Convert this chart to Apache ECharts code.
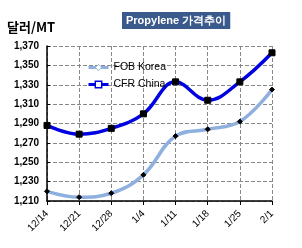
<!DOCTYPE html>
<html><head><meta charset="utf-8">
<script src="https://cdn.jsdelivr.net/npm/echarts@6/dist/echarts.min.js"></script>
<style>html,body{margin:0;padding:0;background:#fff}#c{width:302px;height:248px}</style>
</head><body><div id="c"></div>
<script>
const categories = ['12/14','12/21','12/28','1/4','1/11','1/18','1/25','2/1'];
const fobKorea = [1220, 1214, 1218, 1237, 1277, 1284, 1292, 1325];
const cfrChina = [1288, 1279, 1285, 1300, 1333, 1314, 1333, 1363];
const yTicks = [1210, 1370, 20];
const chart = echarts.init(document.getElementById('c'));
const font = '"Liberation Sans", Arial, sans-serif';
chart.setOption({
  animation: false,
  title: {
    text: 'Propylene 가격추이', left: 122, top: 12,
    backgroundColor: '#3b5a8c', padding: [3, 4, 3, 4],
    textStyle: { color: '#fff', fontSize: 11, fontWeight: 'bold', fontFamily: font }
  },
  graphic: [{ type: 'text', left: 7, top: 21, style: { text: '달러/MT', fontSize: 13, fontWeight: 'bold', fill: '#000', fontFamily: '"Noto Sans CJK KR", sans-serif' } }],
  legend: {
    orient: 'vertical', left: 82, top: 57, itemGap: 6, itemWidth: 20, itemHeight: 8,
    textStyle: { fontSize: 10.5, fontFamily: font, color: '#000' },
    data: [
      { name: 'FOB Korea', itemStyle: { color: '#fff', borderColor: '#8fb0de', borderWidth: 1 }, lineStyle: { width: 3 } },
      { name: 'CFR China', itemStyle: { color: '#fff', borderColor: '#0000e0', borderWidth: 1.5 }, lineStyle: { width: 3 } }
    ]
  },
  grid: { left: 47, right: 30, top: 46, bottom: 47 },
  xAxis: {
    type: 'category', data: categories, boundaryGap: false,
    axisLine: { lineStyle: { color: '#000', width: 1.5 } },
    axisTick: { show: true, inside: false, length: 4, lineStyle: { color: '#000' } },
    axisLabel: { rotate: 45, fontSize: 10, color: '#000', fontFamily: font, margin: 11 },
    splitLine: { show: true, lineStyle: { color: '#888', type: 'dashed', width: 1 } }
  },
  yAxis: {
    type: 'value', min: yTicks[0], max: yTicks[1], interval: yTicks[2],
    axisLine: { show: true, lineStyle: { color: '#000', width: 1.5 } },
    axisTick: { show: true, inside: true, length: 3, lineStyle: { color: '#000' } },
    axisLabel: { fontSize: 10, fontWeight: 'bold', color: '#000', fontFamily: font, margin: 8,
      formatter: v => v.toLocaleString('en-US') },
    splitLine: { show: true, lineStyle: { color: '#888', type: 'dashed', width: 1 } }
  },
  series: [
    { name: 'FOB Korea', type: 'line', data: fobKorea, smooth: 0.4,
      symbol: 'diamond', symbolSize: 5,
      lineStyle: { color: '#8fb0de', width: 3.5 },
      itemStyle: { color: '#000', borderColor: '#000' } },
    { name: 'CFR China', type: 'line', data: cfrChina, smooth: 0.4,
      symbol: 'rect', symbolSize: 6,
      lineStyle: { color: '#0000e0', width: 3.5 },
      itemStyle: { color: '#000', borderColor: '#000' } }
  ]
});
</script></body></html>
